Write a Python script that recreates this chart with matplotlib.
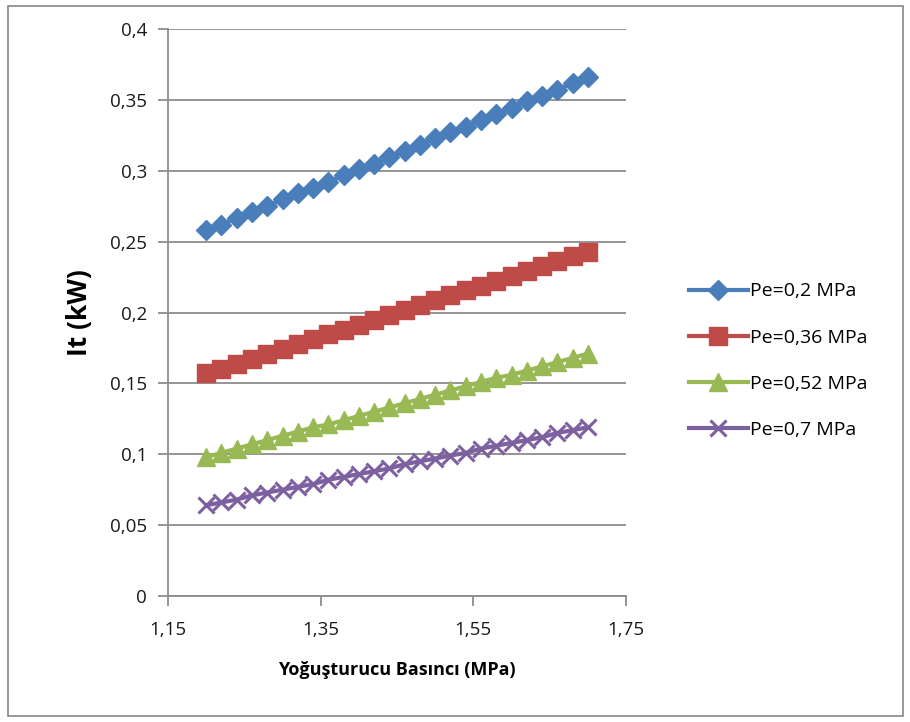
import matplotlib
matplotlib.use("Agg")
import matplotlib.pyplot as plt
from matplotlib.patches import Rectangle
from matplotlib.ticker import FuncFormatter

plt.rcParams['font.family'] = ['Open Sans', 'DejaVu Sans']

# Condenser pressure (MPa)
pressure = [1.20, 1.22, 1.24, 1.26, 1.28, 1.30, 1.32, 1.34, 1.36, 1.38,
            1.40, 1.42, 1.44, 1.46, 1.48, 1.50, 1.52, 1.54, 1.56, 1.58,
            1.60, 1.62, 1.64, 1.66, 1.68, 1.70]

pe_02 = [0.258, 0.262, 0.267, 0.271, 0.275, 0.280, 0.284, 0.288, 0.292, 0.297,
         0.301, 0.305, 0.310, 0.314, 0.318, 0.323, 0.327, 0.331, 0.336, 0.340,
         0.344, 0.349, 0.353, 0.357, 0.362, 0.366]
pe_036 = [0.157, 0.160, 0.164, 0.167, 0.171, 0.174, 0.178, 0.181, 0.185, 0.188,
          0.191, 0.195, 0.198, 0.202, 0.205, 0.209, 0.212, 0.216, 0.219, 0.222,
          0.226, 0.229, 0.233, 0.236, 0.240, 0.243]
pe_052 = [0.098, 0.101, 0.104, 0.107, 0.110, 0.113, 0.116, 0.119, 0.121, 0.124,
          0.127, 0.130, 0.133, 0.136, 0.139, 0.142, 0.145, 0.148, 0.151, 0.154,
          0.156, 0.159, 0.162, 0.165, 0.168, 0.171]
pe_07 = [0.064, 0.066, 0.068, 0.071, 0.073, 0.075, 0.077, 0.079, 0.082, 0.084,
         0.086, 0.088, 0.090, 0.093, 0.095, 0.097, 0.099, 0.101, 0.104, 0.106,
         0.108, 0.110, 0.112, 0.115, 0.117, 0.119]

labels = ['Pe=0,2 MPa', 'Pe=0,36 MPa', 'Pe=0,52 MPa', 'Pe=0,7 MPa']
x_ticks = [1.15, 1.35, 1.55, 1.75]
y_ticks = [0, 0.05, 0.1, 0.15, 0.2, 0.25, 0.3, 0.35, 0.4]

fig = plt.figure(figsize=(9.1, 7.22), dpi=100)
ax = fig.add_axes([168 / 910, 1 - 596 / 722, (626 - 168) / 910, (596 - 29) / 722])

# outer chart border
fig.patches.append(Rectangle((8 / 910, 6 / 722), (903 - 8) / 910, (716 - 6) / 722,
                             transform=fig.transFigure, fill=False,
                             edgecolor='#868686', linewidth=1.2))

styles = [
    (pe_02, '#4A7EBB', 'D', 10.5),
    (pe_036, '#BE4B48', 's', 13),
    (pe_052, '#98B954', '^', 12.5),
    (pe_07, '#7D60A0', 'x', 11),
]
for (vals, color, marker, ms), lab in zip(styles, labels):
    ax.plot(pressure, vals, color=color, linewidth=3, marker=marker,
            markersize=ms, markerfacecolor=color, markeredgecolor=color,
            markeredgewidth=2.2 if marker == 'x' else 1, label=lab)

ax.set_xlim(1.15, 1.75)
ax.set_ylim(0, 0.4)
ax.set_xticks(x_ticks)
ax.set_yticks(y_ticks)
comma = FuncFormatter(lambda v, p: ('%g' % v).replace('.', ','))
ax.xaxis.set_major_formatter(comma)
ax.yaxis.set_major_formatter(comma)

ax.grid(axis='y', color='#8C8C8C', linewidth=1.3)
ax.set_axisbelow(True)
for s in ['top', 'right']:
    ax.spines[s].set_visible(False)
for s in ['left', 'bottom']:
    ax.spines[s].set_color('#8C8C8C')
    ax.spines[s].set_linewidth(1.3)
ax.tick_params(axis='both', direction='out', length=7, width=1.3,
               color='#8C8C8C', labelsize=13.5, labelcolor='#1a1a1a')
ax.tick_params(axis='x', pad=11)
ax.tick_params(axis='y', pad=8)

ax.set_xlabel('Yoğuşturucu Basıncı (MPa)', fontsize=13, fontweight='bold',
              labelpad=16)
ax.set_ylabel('It (kW)', fontsize=19, fontweight='bold', labelpad=12)

ax.legend(loc='center left', bbox_to_anchor=(1.1, 0.415), frameon=False,
          fontsize=14, handlelength=3.0, handletextpad=0.1, labelspacing=1.45,
          markerscale=1.0)

fig.savefig('out.png', dpi=100)
